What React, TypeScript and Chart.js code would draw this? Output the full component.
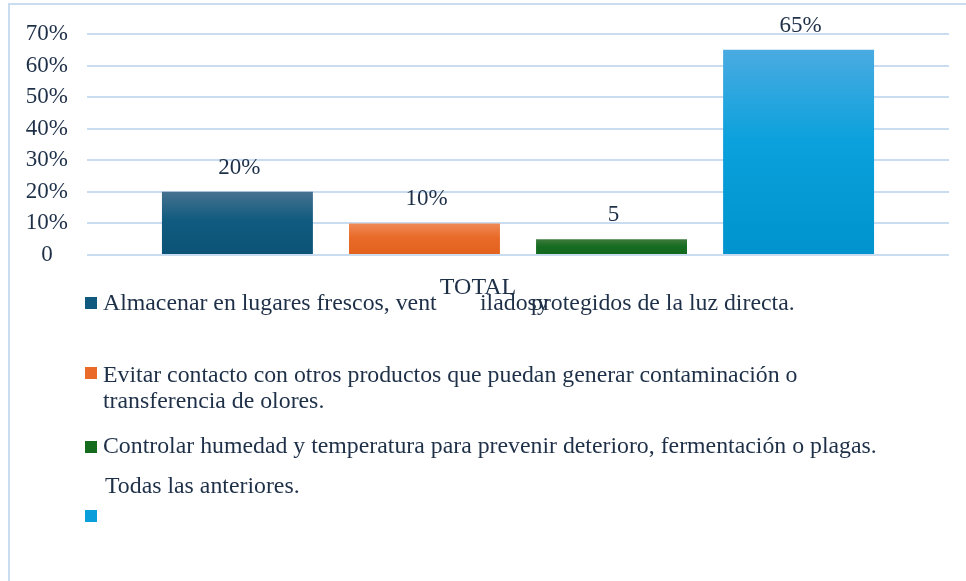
import React, { useEffect, useRef } from "react";
import { Chart, registerables } from "chart.js";

Chart.register(...registerables);

const categories = ["TOTAL"];
const seriesNames = [
  "Almacenar en lugares frescos, ventilados y protegidos de la luz directa.",
  "Evitar contacto con otros productos que puedan generar contaminación o transferencia de olores.",
  "Controlar humedad y temperatura para prevenir deterioro, fermentación o plagas.",
  "Todas las anteriores.",
];
const seriesValues = [20, 10, 5, 65];
const dataLabels = ["20%", "10%", "5", "65%"];
const yTickLabels = ["0", "10%", "20%", "30%", "40%", "50%", "60%", "70%"];
// legend text as it appears (pieces / lines)
const legendPieces: string[][] = [
  ["Almacenar en lugares frescos, vent", "ilados", "y", "protegidos de la luz directa."],
  ["Evitar contacto con otros productos que puedan generar contaminación o", "transferencia de olores."],
  ["Controlar humedad y temperatura para prevenir deterioro, fermentación o plagas."],
  ["Todas las anteriores."],
];

const FONT = "'Liberation Serif', 'Times New Roman', serif";
const TEXT = "#1e3048";
const GRID = "#c9dcf0";

const solidColors = ["#0f5a7e", "#ea6a2a", "#146b1e", "#0a9fdb"];
const gradStops = [
  ["#46718f", "#105b7f", "#0b5377"],
  ["#ef8a57", "#e96a28", "#e3611d"],
  ["#3f7b3f", "#166c20", "#126a1e"],
  ["#4aabe1", "#0aa1dc", "#0093cd"],
];

// layout of the hand-placed legend (positions only)
const legendLayout = [
  { marker: 297, lines: [{ x: 103, y: 310 }, { x: 480, y: 310 }, { x: 537, y: 310 }, { x: 531, y: 310 }] },
  { marker: 367, lines: [{ x: 103, y: 381.5 }, { x: 103, y: 408 }] },
  { marker: 441, lines: [{ x: 103, y: 453 }] },
  { marker: 510, lines: [{ x: 105, y: 493 }] },
];

const valueLabelPlugin = {
  id: "valueLabels",
  afterDatasetsDraw(chart: any) {
    const ctx = chart.ctx;
    ctx.save();
    ctx.font = `23px ${FONT}`;
    ctx.fillStyle = TEXT;
    ctx.textAlign = "center";
    ctx.textBaseline = "alphabetic";
    chart.data.datasets.forEach((ds: any, i: number) => {
      const meta = chart.getDatasetMeta(i);
      meta.data.forEach((el: any) => {
        ctx.fillText(dataLabels[i], el.x + 2, el.y - 18);
      });
    });
    ctx.restore();
  },
};

const legendPlugin = {
  id: "customLegend",
  afterDraw(chart: any) {
    const ctx = chart.ctx;
    ctx.save();
    ctx.font = `23.8px ${FONT}`;
    ctx.fillStyle = TEXT;
    ctx.textAlign = "left";
    ctx.textBaseline = "alphabetic";
    legendPieces.forEach((pieces, i) => {
      const lay = legendLayout[i];
      ctx.fillStyle = solidColors[i];
      ctx.fillRect(85, lay.marker, 12, 12);
      ctx.fillStyle = TEXT;
      pieces.forEach((p, j) => {
        const pos = lay.lines[j];
        ctx.fillText(p, pos.x, pos.y);
      });
    });
    ctx.restore();
  },
};

export default function App() {
  const ref = useRef<HTMLCanvasElement | null>(null);
  useEffect(() => {
    if (!ref.current) return;
    const chart = new Chart(ref.current, {
      type: "bar",
      data: {
        labels: categories,
        datasets: seriesNames.map((name, i) => ({
          label: name,
          data: [seriesValues[i]],
          backgroundColor: (c: any) => {
            const ys = c.chart.scales?.y;
            if (!ys || c.raw == null) return solidColors[i];
            const top = ys.getPixelForValue(c.raw);
            const bottom = ys.getPixelForValue(0);
            if (!isFinite(top) || !isFinite(bottom) || bottom - top < 1) return solidColors[i];
            const g = c.chart.ctx.createLinearGradient(0, top, 0, bottom);
            g.addColorStop(0, gradStops[i][0]);
            g.addColorStop(0.45, gradStops[i][1]);
            g.addColorStop(1, gradStops[i][2]);
            return g;
          },
          borderWidth: 0,
          categoryPercentage: 0.868,
          barPercentage: 0.807,
        })),
      },
      options: {
        animation: false,
        responsive: false,
        devicePixelRatio: 1,
        layout: { padding: { top: 34, right: 17, left: 0, bottom: 0 } },
        plugins: {
          legend: { display: false },
          tooltip: { enabled: false },
          title: { display: false },
        },
        scales: {
          x: {
            grid: { display: false, drawTicks: false },
            border: { display: false },
            ticks: {
              font: { family: FONT, size: 24 },
              color: TEXT,
              padding: 18,
              labelOffset: -40,
            },
            afterFit: (s: any) => {
              s.height = 326;
            },
          },
          y: {
            min: 0,
            max: 70,
            grid: { color: GRID, lineWidth: 2, drawTicks: false },
            border: { display: false },
            ticks: {
              stepSize: 10,
              font: { family: FONT, size: 23 },
              color: TEXT,
              padding: 19,
              crossAlign: "center",
              callback: (_v: any, idx: number) => yTickLabels[idx],
            },
            afterFit: (s: any) => {
              s.width = 87;
            },
          },
        },
      },
      plugins: [valueLabelPlugin, legendPlugin],
    });
    return () => chart.destroy();
  }, []);

  return (
    <div style={{ position: "fixed", left: 0, top: 0, width: 966, height: 581, overflow: "hidden", background: "#fff" }}>
      <div
        style={{
          position: "absolute",
          left: 8,
          top: 3,
          width: 1000,
          height: 700,
          borderTop: `2px solid ${GRID}`,
          borderLeft: `2px solid ${GRID}`,
        }}
      />
      <canvas ref={ref} width={966} height={581} style={{ position: "absolute", left: 0, top: 0, width: 966, height: 581 }} />
    </div>
  );
}
